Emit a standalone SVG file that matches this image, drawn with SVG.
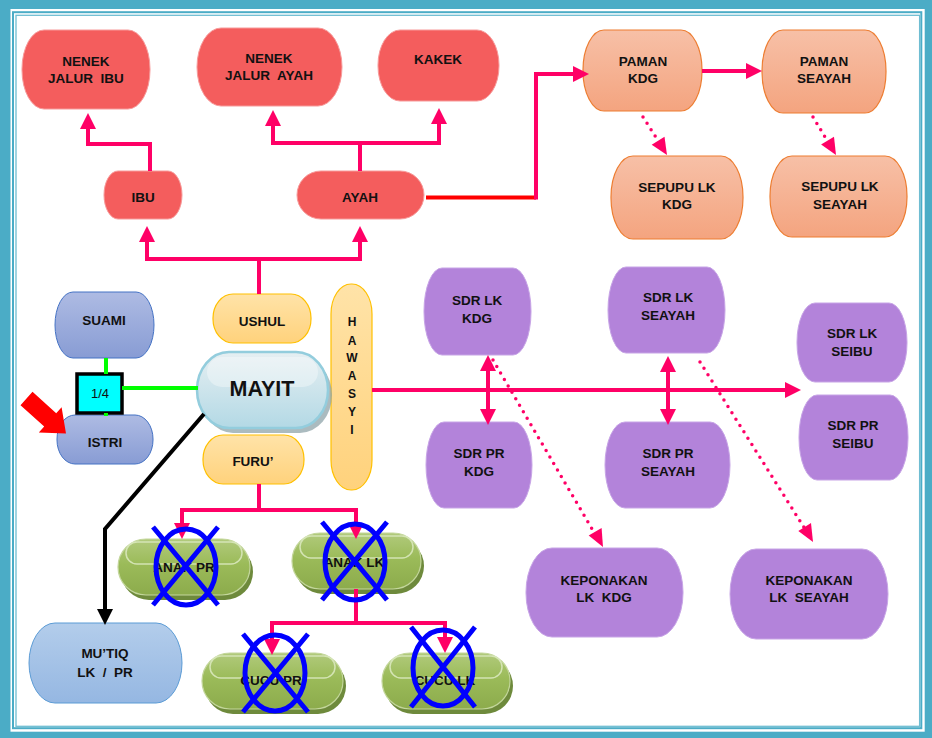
<svg xmlns="http://www.w3.org/2000/svg" width="932" height="738" viewBox="0 0 932 738" xml:space="preserve">
<defs>
<style>
.t{font-family:"Liberation Sans",Arial,sans-serif;font-weight:bold;font-size:13.5px;text-anchor:middle;fill:#111;white-space:pre}
.red{fill:#F45D5D;stroke:#F79A9A;stroke-width:1}
.org{fill:url(#gOrg);stroke:#ED7D31;stroke-width:1.2}
.blu{fill:url(#gBlu);stroke:#4472C4;stroke-width:1}
.yel{fill:url(#gYel);stroke:#FFC000;stroke-width:1.2}
.pur{fill:#B383DA;stroke:#C7A4E6;stroke-width:1}
.lbl{fill:url(#gLbl);stroke:#5B9BD5;stroke-width:1}
.grn{fill:url(#gGrn);stroke:#C3D69B;stroke-width:1.2}
.gsh{fill:#6E8A3C}
.hl{fill:none;stroke:#D9E8BC;stroke-width:1.5;opacity:0.9}
.pk{fill:none;stroke:#FF0066;stroke-width:4}
.dot{fill:none;stroke:#FF0066;stroke-width:3.5;stroke-linecap:round;stroke-dasharray:0 7.5}
.x{fill:none;stroke:#0000FF;stroke-width:5}
</style>
<linearGradient id="gOrg" x1="0" y1="0" x2="0" y2="1"><stop offset="0" stop-color="#F7C0A7"/><stop offset="1" stop-color="#F4A47F"/></linearGradient>
<linearGradient id="gBlu" x1="0" y1="0" x2="0" y2="1"><stop offset="0" stop-color="#AEBBE3"/><stop offset="1" stop-color="#889CD4"/></linearGradient>
<linearGradient id="gYel" x1="0" y1="0" x2="0" y2="1"><stop offset="0" stop-color="#FFE3A8"/><stop offset="1" stop-color="#FFD27C"/></linearGradient>
<linearGradient id="gLbl" x1="0" y1="0" x2="0" y2="1"><stop offset="0" stop-color="#B3CDEB"/><stop offset="1" stop-color="#95B7E2"/></linearGradient>
<linearGradient id="gGrn" x1="0" y1="0" x2="0" y2="1"><stop offset="0" stop-color="#B1CA7C"/><stop offset="0.45" stop-color="#9BBB59"/><stop offset="1" stop-color="#8CAB4C"/></linearGradient>
<linearGradient id="gMay" x1="0" y1="0" x2="0" y2="1"><stop offset="0" stop-color="#E6EFF2"/><stop offset="1" stop-color="#B3D9E5"/></linearGradient>
<marker id="ah" markerUnits="userSpaceOnUse" markerWidth="16" markerHeight="16" refX="6" refY="8" orient="auto-start-reverse"><path d="M0,0 L16,8 L0,16 z" fill="#FF0066"/></marker>
<marker id="ahk" markerUnits="userSpaceOnUse" markerWidth="16" markerHeight="16" refX="6" refY="8" orient="auto"><path d="M0,0 L16,8 L0,16 z" fill="#000"/></marker>
</defs>

<!-- frame -->
<rect x="0" y="0" width="932" height="738" fill="#4BACC6"/>
<rect x="10.5" y="9" width="914.2" height="722.7" fill="#fff"/>
<rect x="13" y="12.2" width="908.3" height="716" fill="none" stroke="#4BACC6" stroke-width="2"/>
<rect x="16" y="15.3" width="903.6" height="711" fill="#fff" stroke="#6FBDD2" stroke-width="1.3"/>

<!-- nodes -->
<g id="nenek-ibu"><rect class="red" x="22" y="30" width="128" height="79" rx="22" ry="39"/><text class="t" x="86" y="66">NENEK</text><text class="t" x="86" y="83">JALUR  IBU</text></g>
<g id="nenek-ayah"><rect class="red" x="197" y="28" width="145" height="78" rx="24" ry="39"/><text class="t" x="269" y="63">NENEK</text><text class="t" x="269" y="80">JALUR  AYAH</text></g>
<g id="kakek"><rect class="red" x="378" y="30" width="121" height="71" rx="22" ry="35"/><text class="t" x="438" y="64">KAKEK</text></g>
<g id="ibu"><rect class="red" x="104" y="171" width="78" height="48" rx="14" ry="24"/><text class="t" x="143" y="202">IBU</text></g>
<g id="ayah"><rect class="red" x="297" y="171" width="127" height="48" rx="24" ry="24"/><text class="t" x="360" y="202">AYAH</text></g>

<g id="paman-kdg"><rect class="org" x="583" y="30" width="119" height="81" rx="21" ry="40"/><text class="t" x="643" y="66">PAMAN</text><text class="t" x="643" y="83">KDG</text></g>
<g id="paman-seayah"><rect class="org" x="762" y="30" width="124" height="83" rx="21" ry="41"/><text class="t" x="824" y="66">PAMAN</text><text class="t" x="824" y="83">SEAYAH</text></g>
<g id="sepupu-kdg"><rect class="org" x="611" y="156" width="132" height="83" rx="22" ry="41"/><text class="t" x="677" y="192">SEPUPU LK</text><text class="t" x="677" y="209">KDG</text></g>
<g id="sepupu-seayah"><rect class="org" x="770" y="156" width="137" height="81" rx="22" ry="40"/><text class="t" x="840" y="191">SEPUPU LK</text><text class="t" x="840" y="209">SEAYAH</text></g>

<g id="suami"><rect class="blu" x="55" y="292" width="99" height="66" rx="18" ry="33"/><text class="t" x="104" y="325">SUAMI</text></g>
<g id="istri"><rect class="blu" x="57" y="415" width="96" height="49" rx="18" ry="24"/><text class="t" x="105" y="447">ISTRI</text></g>

<g id="ushul"><rect class="yel" x="213" y="294" width="98" height="49" rx="20" ry="24"/><text class="t" x="262" y="326">USHUL</text></g>
<g id="furu"><rect class="yel" x="203" y="435" width="101" height="49" rx="20" ry="24"/><text class="t" x="253" y="466">FURU’</text></g>
<g id="hawasyi"><rect class="yel" x="331" y="284" width="41" height="206" rx="20" ry="30"/>
<g style="font-family:'Liberation Sans',Arial,sans-serif;font-weight:bold;font-size:12px;text-anchor:middle;fill:#111">
<text x="352" y="325.5">H</text><text x="352" y="344.5">A</text><text x="352" y="361.5">W</text><text x="352" y="379.5">A</text><text x="352" y="397.5">S</text><text x="352" y="415.5">Y</text><text x="352" y="433.5">I</text></g></g>

<g id="mayit">
<rect x="201" y="357" width="131" height="76" rx="32" ry="38" fill="#8FA4AA" opacity="0.75"/>
<rect x="197" y="352" width="131" height="76" rx="32" ry="38" fill="url(#gMay)" stroke="#93CDDD" stroke-width="2.5"/>
<rect x="207" y="357" width="111" height="30" rx="15" ry="15" fill="#fff" opacity="0.35"/>
<text class="t" x="262" y="396" style="font-size:21.5px">MAYIT</text></g>

<g id="quarter"><rect x="77" y="374" width="45" height="39" fill="#00FFFF" stroke="#000" stroke-width="3.5"/><text x="100" y="397.5" style="font-family:'Liberation Sans',Arial,sans-serif;font-size:13px;text-anchor:middle;fill:#111">1/4</text></g>

<g id="red-pointer"><polygon points="20.5,405.2 32.5,391.8 56.2,413.2 61.6,407.3 66,433.5 38.8,432.5 44.2,426.6" fill="#FF0000"/></g>

<g id="sdr-lk-kdg"><rect class="pur" x="424" y="268" width="107" height="87" rx="18" ry="43"/><text class="t" x="477" y="305">SDR LK</text><text class="t" x="477" y="323">KDG</text></g>
<g id="sdr-lk-seayah"><rect class="pur" x="608" y="267" width="117" height="86" rx="18" ry="43"/><text class="t" x="668" y="302">SDR LK</text><text class="t" x="668" y="320">SEAYAH</text></g>
<g id="sdr-lk-seibu"><rect class="pur" x="797" y="303" width="110" height="79" rx="18" ry="39"/><text class="t" x="852" y="338">SDR LK</text><text class="t" x="852" y="356">SEIBU</text></g>
<g id="sdr-pr-kdg"><rect class="pur" x="426" y="422" width="106" height="86" rx="18" ry="43"/><text class="t" x="479" y="458">SDR PR</text><text class="t" x="479" y="476">KDG</text></g>
<g id="sdr-pr-seayah"><rect class="pur" x="605" y="422" width="125" height="86" rx="20" ry="43"/><text class="t" x="668" y="458">SDR PR</text><text class="t" x="668" y="476">SEAYAH</text></g>
<g id="sdr-pr-seibu"><rect class="pur" x="799" y="395" width="109" height="85" rx="18" ry="42"/><text class="t" x="853" y="430">SDR PR</text><text class="t" x="853" y="448">SEIBU</text></g>
<g id="keponakan-kdg"><rect class="pur" x="526" y="548" width="157" height="89" rx="26" ry="44"/><text class="t" x="604" y="585">KEPONAKAN</text><text class="t" x="604" y="602">LK  KDG</text></g>
<g id="keponakan-seayah"><rect class="pur" x="730" y="549" width="158" height="90" rx="26" ry="45"/><text class="t" x="809" y="585">KEPONAKAN</text><text class="t" x="809" y="602">LK  SEAYAH</text></g>

<g id="mutiq"><rect class="lbl" x="29" y="623" width="153" height="80" rx="26" ry="40"/><text class="t" x="105" y="658">MU’TIQ</text><text class="t" x="105" y="677">LK  /  PR</text></g>

<g id="anak-pr"><rect class="gsh" x="121" y="544" width="132" height="56" rx="28" ry="28"/><rect class="grn" x="118" y="539" width="132" height="56" rx="28" ry="28"/><rect class="hl" x="126" y="542" width="116" height="22" rx="11" ry="11"/><text class="t" x="184" y="572">ANAK PR</text></g>
<g id="anak-lk"><rect class="gsh" x="295" y="538" width="129" height="56" rx="28" ry="28"/><rect class="grn" x="292" y="533" width="129" height="56" rx="28" ry="28"/><rect class="hl" x="300" y="536" width="113" height="22" rx="11" ry="11"/><text class="t" x="354" y="567">ANAK LK</text></g>
<g id="cucu-pr"><rect class="gsh" x="205" y="658" width="141" height="56" rx="28" ry="28"/><rect class="grn" x="202" y="653" width="141" height="56" rx="28" ry="28"/><rect class="hl" x="210" y="656" width="125" height="22" rx="11" ry="11"/><text class="t" x="271" y="685">CUCU PR</text></g>
<g id="cucu-lk"><rect class="gsh" x="385" y="658" width="128" height="56" rx="28" ry="28"/><rect class="grn" x="382" y="653" width="128" height="56" rx="28" ry="28"/><rect class="hl" x="390" y="656" width="112" height="22" rx="11" ry="11"/><text class="t" x="445" y="685">CUCU LK</text></g>

<!-- connectors -->
<g id="connectors">
<path class="pk" d="M150,171 V144 H88 V123" marker-end="url(#ah)"/>
<path class="pk" d="M360,171 V143 H273 V120" marker-end="url(#ah)"/>
<path class="pk" d="M360,143 H439 V118" marker-end="url(#ah)"/>
<path class="pk" d="M259,294 V259"/>
<path class="pk" d="M259,259 H147 V236" marker-end="url(#ah)"/>
<path class="pk" d="M259,259 H360 V236" marker-end="url(#ah)"/>
<path d="M426,197.5 H536" fill="none" stroke="#FF0000" stroke-width="4"/>
<path class="pk" d="M536,199.5 V74 H579" marker-end="url(#ah)"/>
<path class="pk" d="M702,71 H752" marker-end="url(#ah)"/>
<path class="dot" d="M643,117 L659,142"/>
<path class="dot" d="M813,117 L828,142"/>
<path class="pk" d="M372,390 H791" marker-end="url(#ah)"/>
<path class="pk" d="M488,365 V415" marker-start="url(#ah)" marker-end="url(#ah)"/>
<path class="pk" d="M668,366 V415" marker-start="url(#ah)" marker-end="url(#ah)"/>
<path class="dot" d="M493,360 L595,534"/>
<path class="dot" d="M700,362 L805,529"/>
<path class="pk" d="M259,484 V510"/>
<path class="pk" d="M259,510 H182 V529" marker-end="url(#ah)"/>
<path class="pk" d="M259,510 H356 V529" marker-end="url(#ah)"/>
<path class="pk" d="M356,589 V623"/>
<path class="pk" d="M356,623 H272 V645" marker-end="url(#ah)"/>
<path class="pk" d="M356,623 H445 V643" marker-end="url(#ah)"/>
<path d="M106,358 V374 M106,413 V416 M122,388 H198" fill="none" stroke="#00FF00" stroke-width="4"/>
<path d="M204,414 L105,529 V615" fill="none" stroke="#000" stroke-width="4" marker-end="url(#ahk)"/>
<g id="dot-heads" fill="#FF0066">
<polygon points="667,155 651.7,144.7 664.5,136.7"/>
<polygon points="836,155 821.1,144.5 834,136.7"/>
<polygon points="603,547 588.7,535.6 601.6,528"/>
<polygon points="813,542 798.3,531.1 811,523.1"/>
</g>
</g>

<!-- crosses -->
<g id="crosses">
<ellipse class="x" cx="186" cy="567" rx="30" ry="38"/><path class="x" d="M153,527 L218,605 M218,527 L153,605"/>
<ellipse class="x" cx="355" cy="562" rx="30" ry="38"/><path class="x" d="M322,522 L387,600 M387,522 L322,600"/>
<ellipse class="x" cx="275" cy="673" rx="30" ry="38"/><path class="x" d="M243,634 L308,712 M308,634 L243,712"/>
<ellipse class="x" cx="443" cy="668" rx="30" ry="38"/><path class="x" d="M411,627 L475,707 M475,627 L411,707"/>
</g>
</svg>
